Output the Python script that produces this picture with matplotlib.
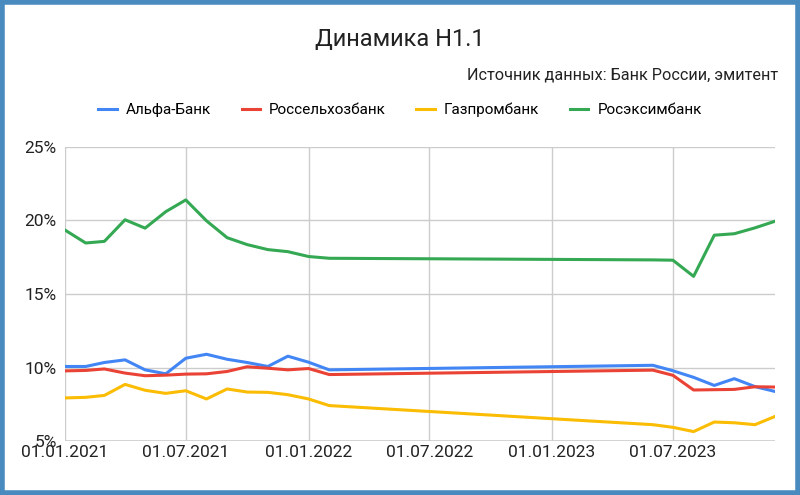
import matplotlib
matplotlib.use("Agg")
import matplotlib.pyplot as plt
import matplotlib.dates as mdates
import pandas as pd
from matplotlib.ticker import FuncFormatter
from matplotlib.patches import Rectangle

plt.rcParams['font.family'] = ['Roboto', 'DejaVu Sans']

dates = list(pd.date_range("2021-01-01", "2022-02-01", freq="MS")) + list(pd.date_range("2023-06-01", "2023-12-01", freq="MS"))
alfa = [10.07,10.07,10.34,10.52,9.84,9.57,10.63,10.9,10.56,10.34,10.07,10.77,10.36,9.84,
        10.15,9.78,9.33,8.78,9.24,8.7,8.37]
rshb = [9.77,9.8,9.9,9.62,9.44,9.48,9.55,9.57,9.73,10.05,9.95,9.84,9.93,9.52,
        9.82,9.47,8.47,8.49,8.51,8.69,8.67]
gpb = [7.93,7.97,8.1,8.85,8.45,8.24,8.42,7.86,8.54,8.33,8.31,8.15,7.86,7.41,
       6.11,5.93,5.64,6.29,6.24,6.11,6.67]
rexim = [19.35,18.47,18.58,20.05,19.48,20.6,21.4,19.98,18.83,18.36,18.02,17.88,17.55,17.43,
         17.32,17.3,16.2,19.0,19.1,19.5,19.95]
series = [("Альфа-Банк", alfa, "#4285f4"), ("Россельхозбанк", rshb, "#ea4335"),
          ("Газпромбанк", gpb, "#fbbc04"), ("Росэксимбанк", rexim, "#34a853")]
ticks = pd.to_datetime(["2021-01-01","2021-07-01","2022-01-01","2022-07-01","2023-01-01","2023-07-01"])

fig = plt.figure(figsize=(8, 4.95), dpi=100)
ax = fig.add_axes([65/800, 1-441/495, 710/800, 294/495])
for name, vals, c in series:
    ax.plot(dates, vals, color=c, lw=2.2, label=name)
ax.set_ylim(5, 25)
ax.set_yticks([5,10,15,20,25])
ax.yaxis.set_major_formatter(FuncFormatter(lambda v, p: f"{v:.0f}%"))
ax.set_xlim(pd.Timestamp("2021-01-01"), pd.Timestamp("2023-12-01"))
ax.set_xticks(ticks)
ax.xaxis.set_major_formatter(mdates.DateFormatter("%d.%m.%Y"))
ax.grid(True, color="#cccccc", lw=1)
for s in ax.spines.values():
    s.set_visible(False)
ax.tick_params(length=0, labelsize=12.5, colors="#222222", pad=3)
ax.tick_params(axis='y', pad=6)
ax.axhline(5, color="#333333", lw=1, zorder=0)

fig.text(0.5, 1-40/495, "Динамика Н1.1", ha="center", va="center", fontsize=17, color="#222222")
fig.text(778/800, 1-75/495, "Источник данных: Банк России, эмитент", ha="right", va="center", fontsize=11.7, color="#222222")
fig.legend(loc="center", bbox_to_anchor=(0.5, 1-110/495), ncol=4, frameon=False, fontsize=11,
           handlelength=1.2, columnspacing=2.0, handletextpad=0.6)
fig.patches.append(Rectangle((0.0025, 0.004), 0.995, 0.992, transform=fig.transFigure, fill=False,
                             edgecolor="#4a8bbf", lw=4))
fig.savefig("out.png", dpi=100)
